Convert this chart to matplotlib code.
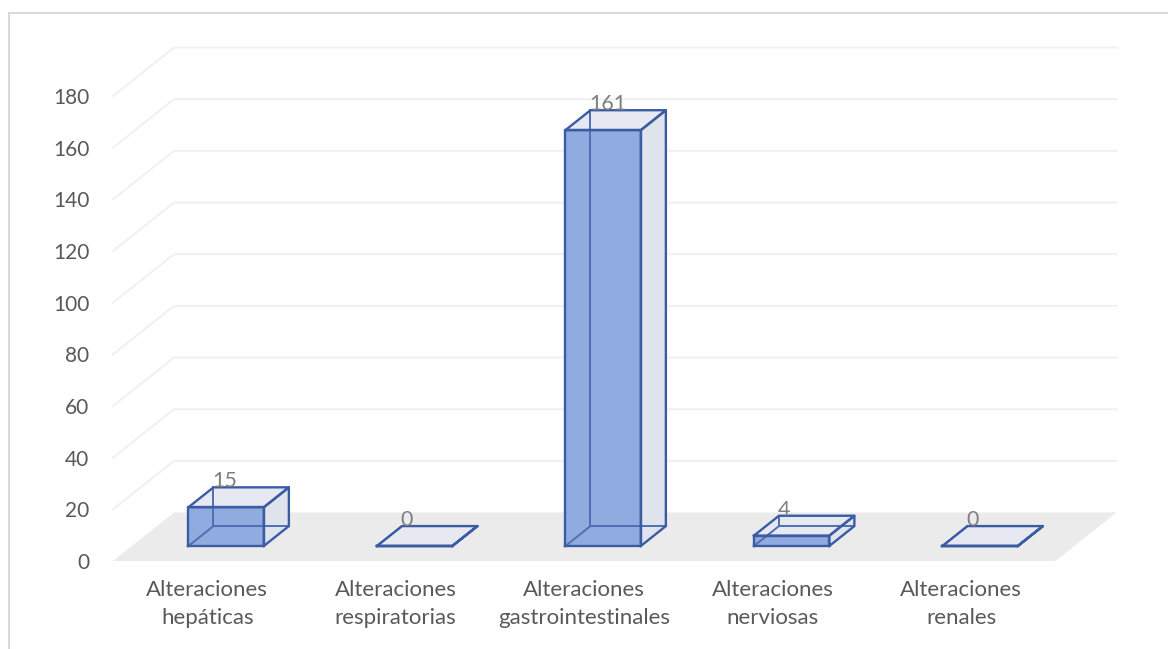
import matplotlib.pyplot as plt
from matplotlib.lines import Line2D
from matplotlib.patches import Polygon

categories = ['Alteraciones\nhepáticas', 'Alteraciones\nrespiratorias',
              'Alteraciones\ngastrointestinales', 'Alteraciones\nnerviosas',
              'Alteraciones\nrenales']
values = [15, 0, 161, 4, 0]
y_ticks = list(range(0, 181, 20))

plt.rcParams['font.family'] = ['Lato', 'DejaVu Sans']

W, H = 1168, 649
fig = plt.figure(figsize=(W / 100, H / 100), dpi=100)

# the axes box is the front plane of the floor; depth is faked with an oblique shift
left_px, bottom_px, right_px, top_px = 113, 88, 1130, 619
px_cat = 188.5   # pixels per category
px_val = 2.583   # pixels per unit
ax = fig.add_axes([left_px / W, bottom_px / H,
                   (right_px - left_px) / W, (top_px - bottom_px) / H])
ax.set_xlim(-0.5, -0.5 + (right_px - left_px) / px_cat)
ax.set_ylim(0, (top_px - bottom_px) / px_val)

DX = 61 / px_cat
DY = 48.5 / px_val
F0, F1 = 0.31, 0.72   # bar front / back depth
BW = 0.40
n = len(categories)


def proj(x, v, d):
    return (x + d * DX, v + d * DY)


# floor
floor = [proj(-0.5, 0, 0), proj(n - 0.5, 0, 0), proj(n - 0.5, 0, 1), proj(-0.5, 0, 1)]
ax.add_patch(Polygon(floor, closed=True, facecolor='#ebebeb', edgecolor='none',
                     zorder=1, clip_on=False))

# gridlines on side and back walls
for t in y_ticks[1:]:
    pts = [proj(-0.5, t, 0), proj(-0.5, t, 1), proj(n - 0.5, t, 1)]
    ax.add_line(Line2D([p[0] for p in pts], [p[1] for p in pts],
                       color='#f0f0f0', lw=1.4, zorder=0.5, clip_on=False))

edge = '#3b5ca3'
hidden = '#4f6fb2'
for i, v in enumerate(values):
    x0, x1 = i - BW / 2, i + BW / 2
    right = [proj(x1, 0, F0), proj(x1, 0, F1), proj(x1, v, F1), proj(x1, v, F0)]
    top = [proj(x0, v, F0), proj(x1, v, F0), proj(x1, v, F1), proj(x0, v, F1)]
    front = [proj(x0, 0, F0), proj(x1, 0, F0), proj(x1, v, F0), proj(x0, v, F0)]
    ax.add_patch(Polygon(right, closed=True, facecolor='#dfe3ec', edgecolor='none', zorder=2))
    ax.add_patch(Polygon(top, closed=True, facecolor='#e6e9f1', edgecolor='none', zorder=2))
    ax.add_patch(Polygon(front, closed=True, facecolor='#8fabdf', edgecolor='none', zorder=2))

    # edges behind the front face
    for a, b in [((x0, 0, F1), (x0, v, F1)), ((x0, 0, F1), (x1, 0, F1)),
                 ((x0, 0, F0), (x0, 0, F1))]:
        pa, pb = proj(*a), proj(*b)
        ax.add_line(Line2D([pa[0], pb[0]], [pa[1], pb[1]], color=hidden,
                           lw=1.4, zorder=3))
    # outer edges
    for poly in (front, top, right):
        xs = [p[0] for p in poly] + [poly[0][0]]
        ys = [p[1] for p in poly] + [poly[0][1]]
        ax.add_line(Line2D(xs, ys, color=edge, lw=1.7, zorder=4,
                           solid_joinstyle='round'))

    ax.annotate(str(v), xy=proj(x0, v, F1), xytext=(-1, 0),
                textcoords='offset points', ha='left', va='baseline',
                color='#7f7f7f', fontsize=15.5, zorder=5)

ax.set_xticks(range(n))
ax.set_xticklabels(categories, linespacing=1.45)
ax.set_yticks(y_ticks)
ax.tick_params(axis='both', length=0, labelcolor='#595959')
ax.tick_params(axis='y', pad=17, labelsize=15)
ax.tick_params(axis='x', pad=14, labelsize=16)
for s in ax.spines.values():
    s.set_visible(False)
ax.set_facecolor('none')

# chart area border (only the top and left edges fall inside the image)
fig.add_artist(Line2D([9 / W, 9 / W], [0, 1 - 13 / H], color='#d9d9d9', lw=1.5,
                      transform=fig.transFigure))
fig.add_artist(Line2D([9 / W, 1], [1 - 13 / H, 1 - 13 / H], color='#d9d9d9', lw=1.5,
                      transform=fig.transFigure))

fig.savefig('out.png', dpi=100)
